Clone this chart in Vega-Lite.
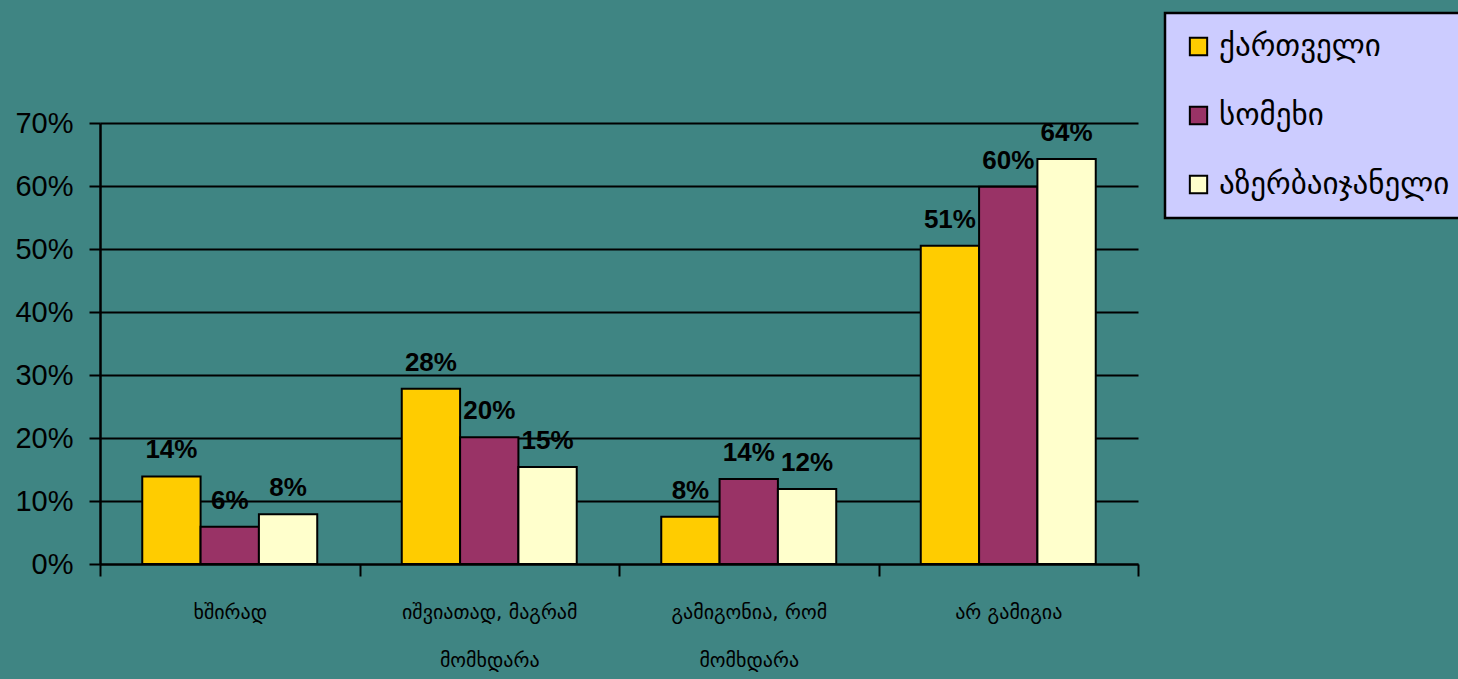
{
  "$schema": "https://vega.github.io/schema/vega-lite/v6.json",
  "width": 1038,
  "height": 441,
  "autosize": {"type": "none"},
  "padding": {"left": 100, "top": 123, "right": 320, "bottom": 115},
  "background": "#3f8583",
  "data": {
    "values": [
      {"cat": "ხშირად", "grp": "ქართველი", "v": 0.139},
      {"cat": "ხშირად", "grp": "სომეხი", "v": 0.059},
      {"cat": "ხშირად", "grp": "აზერბაიჯანელი", "v": 0.079},
      {"cat": "იშვიათად, მაგრამ მომხდარა", "grp": "ქართველი", "v": 0.278},
      {"cat": "იშვიათად, მაგრამ მომხდარა", "grp": "სომეხი", "v": 0.201},
      {"cat": "იშვიათად, მაგრამ მომხდარა", "grp": "აზერბაიჯანელი", "v": 0.154},
      {"cat": "გამიგონია, რომ მომხდარა", "grp": "ქართველი", "v": 0.075},
      {"cat": "გამიგონია, რომ მომხდარა", "grp": "სომეხი", "v": 0.135},
      {"cat": "გამიგონია, რომ მომხდარა", "grp": "აზერბაიჯანელი", "v": 0.119},
      {"cat": "არ გამიგია", "grp": "ქართველი", "v": 0.505},
      {"cat": "არ გამიგია", "grp": "სომეხი", "v": 0.599},
      {"cat": "არ გამიგია", "grp": "აზერბაიჯანელი", "v": 0.643}
    ]
  },
  "encoding": {
    "x": {
      "field": "cat",
      "type": "nominal",
      "sort": ["ხშირად", "იშვიათად, მაგრამ მომხდარა", "გამიგონია, რომ მომხდარა", "არ გამიგია"],
      "scale": {"paddingInner": 0, "paddingOuter": 0},
      "axis": {
        "title": null,
        "labelAngle": 0,
        "tickBand": "extent",
        "tickSize": 12,
        "tickWidth": 2,
        "tickColor": "black",
        "domainColor": "black",
        "domainWidth": 2,
        "labelFont": "DejaVu Sans",
        "labelFontSize": 20,
        "labelColor": "black",
        "labelLineHeight": 48,
        "labelPadding": 26,
        "labelExpr": "isString(datum.value) && indexof(datum.value, ',') > 0 ? [slice(datum.value, 0, lastindexof(datum.value, ' ')), slice(datum.value, lastindexof(datum.value, ' ') + 1)] : datum.label"
      }
    },
    "xOffset": {
      "field": "grp",
      "type": "nominal",
      "sort": ["ქართველი", "სომეხი", "აზერბაიჯანელი"],
      "scale": {"paddingInner": 0, "paddingOuter": 0.7245}
    },
    "y": {
      "field": "v",
      "type": "quantitative",
      "scale": {"domain": [0, 0.7], "nice": false},
      "axis": {
        "title": null,
        "format": ".0%",
        "values": [0, 0.1, 0.2, 0.3, 0.4, 0.5, 0.6, 0.7],
        "grid": true,
        "gridColor": "black",
        "gridWidth": 2,
        "gridOpacity": 1,
        "tickColor": "black",
        "tickSize": 11,
        "tickWidth": 2,
        "domainColor": "black",
        "domainWidth": 2.5,
        "labelFont": "Liberation Sans",
        "labelFontSize": 29,
        "labelColor": "black",
        "labelPadding": 16
      }
    }
  },
  "layer": [
    {
      "mark": {"type": "bar", "stroke": "black", "strokeWidth": 2},
      "encoding": {
        "color": {
          "field": "grp",
          "type": "nominal",
          "sort": ["ქართველი", "სომეხი", "აზერბაიჯანელი"],
          "scale": {"range": ["#ffcc00", "#993366", "#ffffcc"]},
          "legend": {
            "title": null,
            "orient": "none",
            "legendX": 1065,
            "legendY": -110,
            "fillColor": "#ccccff",
            "strokeColor": "black",
            "padding": 18,
            "symbolType": "square",
            "symbolSize": 300,
            "symbolStrokeColor": "black",
            "symbolStrokeWidth": 2,
            "symbolOpacity": 1,
            "labelFont": "DejaVu Sans",
            "labelFontSize": 31,
            "labelColor": "black",
            "labelOffset": 5,
            "labelLimit": 400,
            "rowPadding": 37,
            "encode": {
              "legend": {"update": {"strokeWidth": {"value": 2.5}}}
            }
          }
        }
      }
    },
    {
      "mark": {
        "type": "text",
        "font": "Liberation Sans",
        "fontWeight": "bold",
        "fontSize": 26,
        "color": "black",
        "baseline": "alphabetic",
        "dy": -18
      },
      "encoding": {
        "text": {"field": "v", "type": "quantitative", "format": ".0%"}
      }
    }
  ],
  "config": {
    "view": {"stroke": null}
  }
}
